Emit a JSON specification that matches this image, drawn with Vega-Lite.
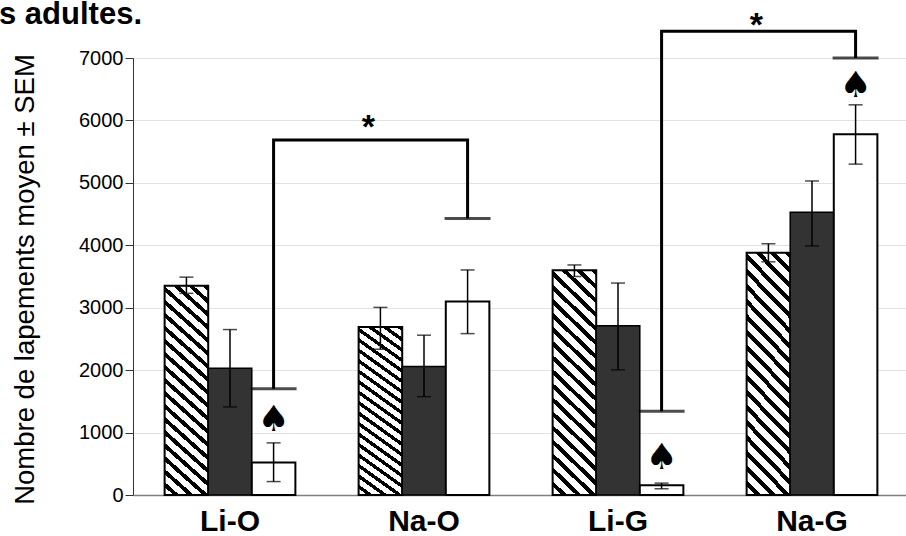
{
  "$schema": "https://vega.github.io/schema/vega-lite/v6.json",
  "autosize": {"type": "none"},
  "padding": {"left": 133, "top": 58, "right": 0, "bottom": 41},
  "width": 773,
  "height": 437,
  "background": "white",
  "config": {
    "view": {"stroke": null},
    "font": "Liberation Sans"
  },
  "title": {
    "text": "s adultes.",
    "anchor": "start",
    "frame": "group",
    "fontSize": 31,
    "fontWeight": "bold",
    "font": "Liberation Sans",
    "color": "black",
    "baseline": "alphabetic",
    "dx": -134,
    "offset": -46
  },
  "datasets": {
    "bars": [
      {"group": "Li-O", "series": "A", "mean": 3350, "lo": 3230, "hi": 3490},
      {"group": "Li-O", "series": "B", "mean": 2030, "lo": 1410, "hi": 2650},
      {"group": "Li-O", "series": "C", "mean": 520, "lo": 215, "hi": 835},
      {"group": "Na-O", "series": "A", "mean": 2690, "lo": 2335, "hi": 3005},
      {"group": "Na-O", "series": "B", "mean": 2060, "lo": 1575, "hi": 2560},
      {"group": "Na-O", "series": "C", "mean": 3100, "lo": 2585, "hi": 3605},
      {"group": "Li-G", "series": "A", "mean": 3600, "lo": 3500, "hi": 3685},
      {"group": "Li-G", "series": "B", "mean": 2710, "lo": 2005, "hi": 3395},
      {"group": "Li-G", "series": "C", "mean": 155, "lo": 100, "hi": 190},
      {"group": "Na-G", "series": "A", "mean": 3880, "lo": 3735, "hi": 4025},
      {"group": "Na-G", "series": "B", "mean": 4530, "lo": 3990, "hi": 5030},
      {"group": "Na-G", "series": "C", "mean": 5780, "lo": 5300, "hi": 6250}
    ],
    "brackets": [
      {"bracket": 1, "step": 1, "group": "Li-O", "series": "C", "value": 1700},
      {"bracket": 1, "step": 2, "group": "Li-O", "series": "C", "value": 5685},
      {"bracket": 1, "step": 3, "group": "Na-O", "series": "C", "value": 5685},
      {"bracket": 1, "step": 4, "group": "Na-O", "series": "C", "value": 4430},
      {"bracket": 2, "step": 1, "group": "Li-G", "series": "C", "value": 1340},
      {"bracket": 2, "step": 2, "group": "Li-G", "series": "C", "value": 7430},
      {"bracket": 2, "step": 3, "group": "Na-G", "series": "C", "value": 7430},
      {"bracket": 2, "step": 4, "group": "Na-G", "series": "C", "value": 7000}
    ],
    "caps": [
      {"group": "Li-O", "series": "C", "value": 1700},
      {"group": "Na-O", "series": "C", "value": 4430},
      {"group": "Li-G", "series": "C", "value": 1340},
      {"group": "Na-G", "series": "C", "value": 7000}
    ],
    "spades": [
      {"group": "Li-O", "series": "C", "value": 1195},
      {"group": "Li-G", "series": "C", "value": 590},
      {"group": "Na-G", "series": "C", "value": 6550}
    ],
    "stars": [
      {"group": "Na-O", "series": "A", "value": 5880},
      {"group": "Na-G", "series": "A", "value": 7510}
    ]
  },
  "encoding": {
    "x": {
      "field": "group",
      "type": "nominal",
      "scale": {"domain": ["Li-O", "Na-O", "Li-G", "Na-G"], "paddingInner": 0.326, "paddingOuter": 0.163, "range": [0, 776]},
      "axis": {
        "title": null,
        "labelAngle": 0,
        "labelFontSize": 30,
        "labelFontWeight": "bold",
        "labelColor": "black",
        "labelFont": "Liberation Sans",
        "labelPadding": 11,
        "ticks": false,
        "domainColor": "#808080",
        "domainWidth": 1.5,
        "grid": false
      }
    },
    "xOffset": {
      "field": "series",
      "type": "nominal",
      "scale": {"domain": ["A", "B", "C"], "paddingInner": 0, "paddingOuter": 0}
    }
  },
  "layer": [
    {
      "data": {"name": "bars"},
      "transform": [{"filter": "datum.series === 'A'"}],
      "mark": {
        "type": "bar",
        "stroke": "black",
        "strokeWidth": 2,
        "fill": {
          "gradient": "linear",
          "x1": 1, "y1": 0, "x2": 0.787, "y2": 1.146,
          "stops": [
            {"offset": 0, "color": "#000"}, {"offset": 0.0211, "color": "#000"}, {"offset": 0.0211, "color": "#fff"}, {"offset": 0.0526, "color": "#fff"},
            {"offset": 0.0526, "color": "#000"}, {"offset": 0.0737, "color": "#000"}, {"offset": 0.0737, "color": "#fff"}, {"offset": 0.1053, "color": "#fff"},
            {"offset": 0.1053, "color": "#000"}, {"offset": 0.1263, "color": "#000"}, {"offset": 0.1263, "color": "#fff"}, {"offset": 0.1579, "color": "#fff"},
            {"offset": 0.1579, "color": "#000"}, {"offset": 0.1789, "color": "#000"}, {"offset": 0.1789, "color": "#fff"}, {"offset": 0.2105, "color": "#fff"},
            {"offset": 0.2105, "color": "#000"}, {"offset": 0.2316, "color": "#000"}, {"offset": 0.2316, "color": "#fff"}, {"offset": 0.2632, "color": "#fff"},
            {"offset": 0.2632, "color": "#000"}, {"offset": 0.2842, "color": "#000"}, {"offset": 0.2842, "color": "#fff"}, {"offset": 0.3158, "color": "#fff"},
            {"offset": 0.3158, "color": "#000"}, {"offset": 0.3368, "color": "#000"}, {"offset": 0.3368, "color": "#fff"}, {"offset": 0.3684, "color": "#fff"},
            {"offset": 0.3684, "color": "#000"}, {"offset": 0.3895, "color": "#000"}, {"offset": 0.3895, "color": "#fff"}, {"offset": 0.4211, "color": "#fff"},
            {"offset": 0.4211, "color": "#000"}, {"offset": 0.4421, "color": "#000"}, {"offset": 0.4421, "color": "#fff"}, {"offset": 0.4737, "color": "#fff"},
            {"offset": 0.4737, "color": "#000"}, {"offset": 0.4947, "color": "#000"}, {"offset": 0.4947, "color": "#fff"}, {"offset": 0.5263, "color": "#fff"},
            {"offset": 0.5263, "color": "#000"}, {"offset": 0.5474, "color": "#000"}, {"offset": 0.5474, "color": "#fff"}, {"offset": 0.5789, "color": "#fff"},
            {"offset": 0.5789, "color": "#000"}, {"offset": 0.6, "color": "#000"}, {"offset": 0.6, "color": "#fff"}, {"offset": 0.6316, "color": "#fff"},
            {"offset": 0.6316, "color": "#000"}, {"offset": 0.6526, "color": "#000"}, {"offset": 0.6526, "color": "#fff"}, {"offset": 0.6842, "color": "#fff"},
            {"offset": 0.6842, "color": "#000"}, {"offset": 0.7053, "color": "#000"}, {"offset": 0.7053, "color": "#fff"}, {"offset": 0.7368, "color": "#fff"},
            {"offset": 0.7368, "color": "#000"}, {"offset": 0.7579, "color": "#000"}, {"offset": 0.7579, "color": "#fff"}, {"offset": 0.7895, "color": "#fff"},
            {"offset": 0.7895, "color": "#000"}, {"offset": 0.8105, "color": "#000"}, {"offset": 0.8105, "color": "#fff"}, {"offset": 0.8421, "color": "#fff"},
            {"offset": 0.8421, "color": "#000"}, {"offset": 0.8632, "color": "#000"}, {"offset": 0.8632, "color": "#fff"}, {"offset": 0.8947, "color": "#fff"},
            {"offset": 0.8947, "color": "#000"}, {"offset": 0.9158, "color": "#000"}, {"offset": 0.9158, "color": "#fff"}, {"offset": 0.9474, "color": "#fff"},
            {"offset": 0.9474, "color": "#000"}, {"offset": 0.9684, "color": "#000"}, {"offset": 0.9684, "color": "#fff"}, {"offset": 1, "color": "#fff"}
          ]
        }
      },
      "encoding": {
        "y": {
          "field": "mean",
          "type": "quantitative",
          "scale": {"domain": [0, 7000], "nice": false},
          "axis": {
            "title": "Nombre de lapements moyen ± SEM",
            "titleFontSize": 27.5,
            "titleFontWeight": "normal",
            "titleColor": "black",
            "titleFont": "Liberation Sans",
            "titleAngle": -90,
            "titleAlign": "center",
            "titleBaseline": "alphabetic",
            "titleX": -100,
            "titleY": 221,
            "values": [0, 1000, 2000, 3000, 4000, 5000, 6000, 7000],
            "format": "d",
            "labelFontSize": 20,
            "labelColor": "black",
            "labelFont": "Liberation Sans",
            "labelPadding": 2,
            "tickSize": 8,
            "tickColor": "#333",
            "domainColor": "#333",
            "grid": true,
            "gridColor": "#e2e2e2",
            "gridWidth": 1
          }
        }
      }
    },
    {
      "data": {"name": "bars"},
      "transform": [{"filter": "datum.series === 'B'"}],
      "mark": {"type": "bar", "fill": "#333333", "stroke": "black", "strokeWidth": 1.5},
      "encoding": {"y": {"field": "mean", "type": "quantitative"}}
    },
    {
      "data": {"name": "bars"},
      "transform": [{"filter": "datum.series === 'C'"}],
      "mark": {"type": "bar", "fill": "white", "stroke": "black", "strokeWidth": 2},
      "encoding": {"y": {"field": "mean", "type": "quantitative"}}
    },
    {
      "data": {"name": "bars"},
      "mark": {"type": "rule", "color": "black", "strokeWidth": 1.5},
      "encoding": {
        "y": {"field": "lo", "type": "quantitative"},
        "y2": {"field": "hi"}
      }
    },
    {
      "data": {"name": "bars"},
      "mark": {"type": "tick", "orient": "horizontal", "color": "black", "size": 14, "thickness": 1.5},
      "encoding": {"y": {"field": "lo", "type": "quantitative"}}
    },
    {
      "data": {"name": "bars"},
      "mark": {"type": "tick", "orient": "horizontal", "color": "black", "size": 14, "thickness": 1.5},
      "encoding": {"y": {"field": "hi", "type": "quantitative"}}
    },
    {
      "data": {"name": "brackets"},
      "mark": {"type": "line", "color": "black", "strokeWidth": 3, "strokeJoin": "miter", "strokeCap": "butt"},
      "encoding": {
        "y": {"field": "value", "type": "quantitative"},
        "detail": {"field": "bracket"},
        "order": {"field": "step"}
      }
    },
    {
      "data": {"name": "caps"},
      "mark": {"type": "tick", "orient": "horizontal", "color": "black", "size": 46, "thickness": 3},
      "encoding": {"y": {"field": "value", "type": "quantitative"}}
    },
    {
      "data": {"name": "spades"},
      "mark": {"type": "text", "text": "♠", "font": "DejaVu Sans", "fontSize": 36, "color": "black", "baseline": "middle", "align": "center"},
      "encoding": {"y": {"field": "value", "type": "quantitative"}}
    },
    {
      "data": {"name": "stars"},
      "mark": {"type": "text", "text": "*", "font": "Liberation Sans", "fontWeight": "bold", "fontSize": 34, "color": "black", "baseline": "middle", "align": "center", "dx": -12},
      "encoding": {"y": {"field": "value", "type": "quantitative"}}
    }
  ]
}
